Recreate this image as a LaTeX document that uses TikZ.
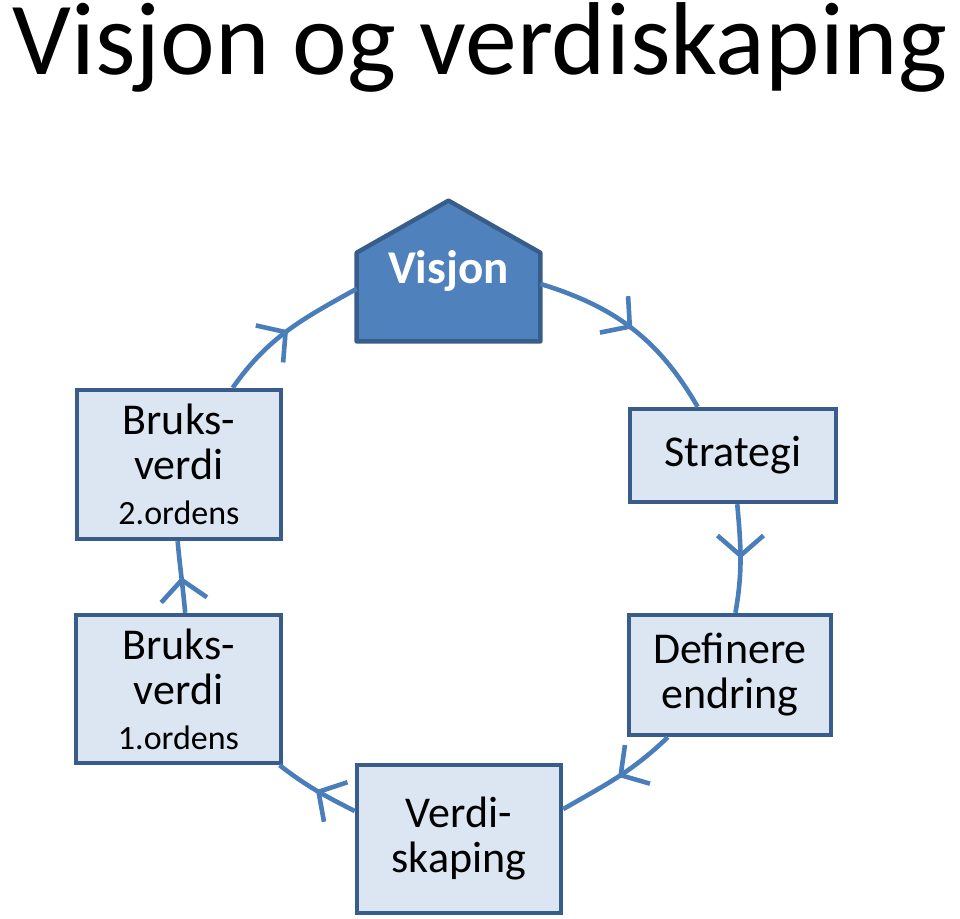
\documentclass[tikz,border=0pt]{standalone}
\usepackage{fontspec}
\setmainfont{Carlito}
\usetikzlibrary{arrows.meta,decorations.markings,calc,backgrounds}
\definecolor{boxfill}{HTML}{DCE6F2}
\definecolor{boxline}{HTML}{385D8A}
\definecolor{roofcol}{HTML}{4F81BD}
\definecolor{ringcol}{HTML}{4A7EBB}

\begin{document}
\begin{tikzpicture}[x=0.5pt,y=-0.5pt,
  box/.style={draw=boxline,fill=boxfill,line width=2.2pt,align=center,inner sep=0pt,
    font=\fontsize{22}{22.5}\selectfont},
  flow/.style={ringcol,line width=2.3pt,postaction={decorate},
    decoration={markings,mark=at position .5 with {\arrow{Straight Barb[length=10pt,width=23pt]}}}}]
\useasboundingbox (0,0) rectangle (960,919);
\node[anchor=base,inner sep=0pt,font=\fontsize{51.8}{60}\selectfont] (title) at (480,75) {Visjon og verdiskaping};
\node[minimum width=91.5pt,minimum height=70pt,inner sep=0pt,text=white,
  font=\fontsize{23.5}{24}\selectfont\bfseries] (visjon) at (448.5,271) {Visjon};
\begin{scope}[on background layer]
\filldraw[fill=roofcol,draw=boxline,line width=2.2pt,line join=round]
  (visjon.south west) -- ($(visjon.north west)!.37!(visjon.south west)$) -- (visjon.north)
  -- ($(visjon.north east)!.37!(visjon.south east)$) -- (visjon.south east) -- cycle;
\end{scope}
\node[box,minimum width=103pt,minimum height=46.5pt] (strategi) at (733,455.5) {Strategi};
\node[box,minimum width=101pt,minimum height=60pt] (definere) at (730,675) {Definere\\endring};
\node[box,minimum width=102pt,minimum height=74pt] (verdi) at (459,839) {Verdi-\\skaping};
\node[box,minimum width=102.5pt,minimum height=74pt] (bruksA) at (178.5,689) {Bruks-\\verdi\\{\fontsize{17}{17}\selectfont 1.ordens}};
\node[box,minimum width=102pt,minimum height=74.5pt] (bruksB) at (179,464.5) {Bruks-\\verdi\\{\fontsize{17}{17}\selectfont 2.ordens}};
\draw[flow] (visjon.-8) to[out=-17,in=120] (strategi.126);
\draw[flow] (strategi.-85) to[out=-85,in=80] (definere.85);
\draw[flow] (definere.-135) to[out=-136,in=30] (verdi.16);
\draw[flow] (verdi.165) to[out=153,in=-38] (bruksA.-37);
\draw[flow] (bruksA.85) to[out=95,in=-85] (bruksB.-91);
\draw[flow] (bruksB.55) to[out=55,in=-151] (visjon.191);
\end{tikzpicture}
\end{document}
